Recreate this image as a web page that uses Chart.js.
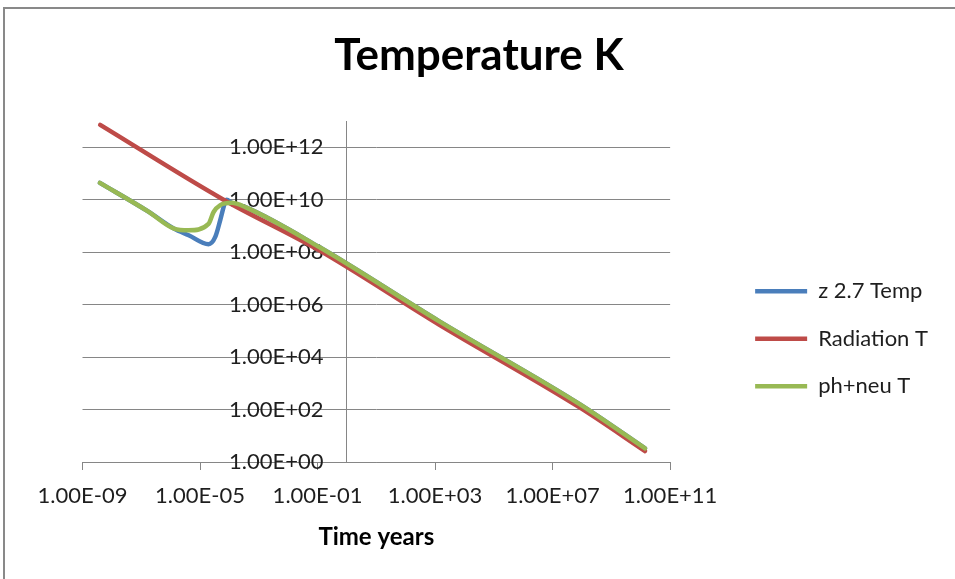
<!DOCTYPE html>
<html>
<head>
<meta charset="utf-8">
<script src="https://cdn.jsdelivr.net/npm/chart.js@4.4.1/dist/chart.umd.min.js"></script>
<style>
  html, body { margin: 0; padding: 0; background: #fff; overflow: hidden; }
  #wrap { position: relative; width: 955px; height: 579px; }
  #frame { position: absolute; left: 3px; top: 7px; width: 1000px; height: 1000px; border: 2px solid #898989; box-sizing: border-box; }
  #chart { position: absolute; left: 0; top: 0; }
</style>
</head>
<body>
<div id="wrap">
  <div id="frame"></div>
  <canvas id="chart" width="955" height="579"></canvas>
</div>
<script>
// series
const seriesNames = ['z 2.7 Temp', 'Radiation T', 'ph+neu T'];
const seriesColors = ['#4A7EBB', '#BE4B48', '#98B954'];

// z 2.7 Temp
const zTime = [3.9e-9, 1.7e-7, 1.3e-6, 4.1e-6, 1.95e-5, 3.3e-5, 4.9e-5, 6.9e-5, 8.1e-5, 1.2e-4, 3.5e-4, 0.11, 1.4e3, 8.3e7, 1.4e10];
const zTemp = [4.4e10, 3.6e9, 7.9e8, 4.4e8, 2.0e8, 3.8e8, 1.7e9, 7.1e9, 1.0e10, 7.6e9, 5.2e9, 1.6e8, 2.3e5, 160, 3.3];

// Radiation T
const radTime = [4.0e-9, 6.3e-5, 0.11, 1.4e3, 8.3e7, 1.4e10];
const radTemp = [7.1e12, 1.0e10, 1.2e8, 1.7e5, 120, 2.6];

// ph+neu T
const phTime = [3.9e-9, 1.7e-7, 1.3e-6, 4.1e-6, 1.95e-5, 2.9e-5, 4.9e-5, 1.2e-4, 3.5e-4, 0.11, 1.4e3, 8.3e7, 1.4e10];
const phTemp = [4.4e10, 3.6e9, 7.9e8, 6.8e8, 1.2e9, 3.4e9, 6.2e9, 7.6e9, 5.2e9, 1.6e8, 2.3e5, 160, 3.3];

// tick positions (powers of ten)
const xTickExp = [-9, -5, -1, 3, 7, 11];
const yTickExp = [0, 2, 4, 6, 8, 10, 12];
const yAxisCross = 1;      // vertical axis line sits at t = 1
const yLabelAnchor = 0.16; // y labels end a little left of it

const gridColor = '#868686';
const textColor = '#1e1e1e';
const clear = 'rgba(0,0,0,0)';
const fontFamily = 'Lato, "Open Sans", sans-serif';

function pts(xs, ys) {
    return xs.map((x, i) => ({ x: x, y: ys[i] }));
}

// 1.00E+12 style labels
function fmtExp(v) {
    const parts = Number(v).toExponential(2).split('e');
    const n = parseInt(parts[1], 10);
    return parts[0] + 'E' + (n < 0 ? '-' : '+') + String(Math.abs(n)).padStart(2, '0');
}

const isCross = c => c.tick && c.tick.value === yAxisCross;

const ctx = document.getElementById('chart').getContext('2d');

new Chart(ctx, {
    type: 'line',
    data: {
        datasets: [
            { label: seriesNames[0], data: pts(zTime, zTemp), borderColor: seriesColors[0], backgroundColor: seriesColors[0], borderWidth: 4.5, order: 2 },
            { label: seriesNames[1], data: pts(radTime, radTemp), borderColor: seriesColors[1], backgroundColor: seriesColors[1], borderWidth: 4.5, order: 1 },
            { label: seriesNames[2], data: pts(phTime, phTemp), borderColor: seriesColors[2], backgroundColor: seriesColors[2], borderWidth: 4.5, order: 0 }
        ]
    },
    options: {
        responsive: false,
        animation: false,
        layout: { padding: { left: 20, right: 17, top: 0, bottom: 0 } },
        elements: {
            point: { radius: 0, hoverRadius: 0 },
            line: { cubicInterpolationMode: 'monotone', borderCapStyle: 'round', borderJoinStyle: 'round', fill: false }
        },
        plugins: {
            title: {
                display: true,
                text: 'Temperature K',
                color: '#000',
                font: { family: fontFamily, size: 44, weight: 'bold' },
                padding: { top: 29, bottom: 39.2 }
            },
            legend: {
                position: 'right',
                align: 'center',
                maxWidth: 320,
                title: { display: true, text: '', font: { size: 12 }, padding: { top: 84, bottom: 0 } },
                labels: {
                    usePointStyle: true,
                    pointStyle: 'line',
                    pointStyleWidth: 52,
                    padding: 25.5,
                    color: textColor,
                    font: { family: fontFamily, size: 22 },
                    sort: (a, b) => a.datasetIndex - b.datasetIndex
                }
            },
            tooltip: { enabled: false }
        },
        scales: {
            x: {
                type: 'logarithmic',
                position: 'bottom',
                min: 1e-9,
                max: 1e11,
                afterBuildTicks: s => {
                    s.ticks = xTickExp.map(e => ({ value: Math.pow(10, e) }));
                    s.ticks.push({ value: yAxisCross });
                },
                ticks: {
                    callback: v => (v === yAxisCross ? '' : fmtExp(v)),
                    autoSkip: false, maxRotation: 0, padding: 13,
                    color: textColor, font: { family: fontFamily, size: 22 }
                },
                grid: {
                    drawOnChartArea: true, drawTicks: true, tickLength: 8,
                    color: c => (isCross(c) ? gridColor : clear),
                    tickColor: c => (isCross(c) ? clear : gridColor)
                },
                border: { color: gridColor },
                title: {
                    display: true,
                    text: 'Time years',
                    color: '#000',
                    font: { family: fontFamily, size: 24, weight: 'bold' },
                    padding: { top: 0, bottom: 27.8 }
                }
            },
            y: {
                type: 'logarithmic',
                position: { x: yLabelAnchor },
                min: 1,
                max: 1e13,
                afterBuildTicks: s => { s.ticks = yTickExp.map(e => ({ value: Math.pow(10, e) })); },
                ticks: { callback: v => fmtExp(v), color: textColor, font: { family: fontFamily, size: 22 } },
                grid: { color: gridColor, drawTicks: false },
                border: { display: false }
            },
            // empty side axes only used to hold space
            padL: {
                type: 'linear', axis: 'y', position: 'left',
                ticks: { display: false }, grid: { display: false }, border: { display: false },
                afterFit: s => { s.width = 62.5; }
            },
            padR: {
                type: 'linear', axis: 'y', position: 'right',
                ticks: { display: false }, grid: { display: false }, border: { display: false },
                afterFit: s => { s.width = 59.5; }
            }
        }
    }
});
</script>
</body>
</html>
